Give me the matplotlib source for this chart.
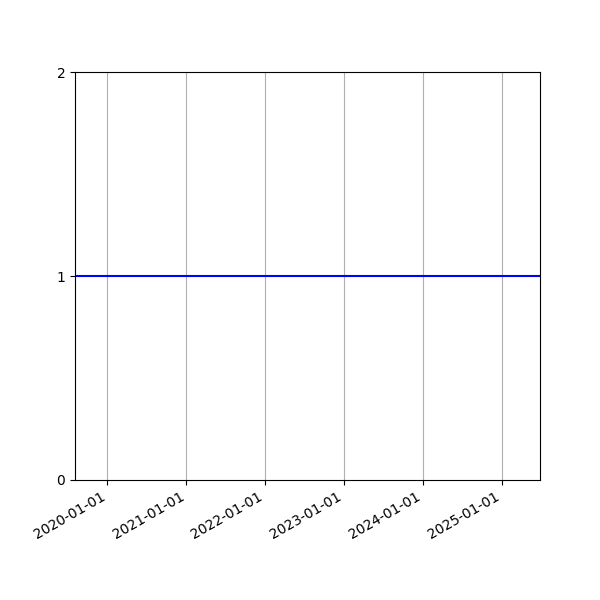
import numpy as np
import pandas as pd
import matplotlib
matplotlib.use("Agg")
import matplotlib.pyplot as plt
import matplotlib.dates as mdates

dates = pd.to_datetime(["2019-08-04", "2025-06-26"])
values = [1, 1]
tick_dates = pd.to_datetime(["2020-01-01", "2021-01-01", "2022-01-01",
                             "2023-01-01", "2024-01-01", "2025-01-01"])
y_ticks = [0, 1, 2]

fig, ax = plt.subplots(figsize=(6, 6), dpi=100)
ax.plot(dates, values, color="blue")
ax.set_xlim(dates[0], dates[-1])
ax.set_ylim(0, 2)
ax.set_yticks(y_ticks)
ax.set_xticks(tick_dates)
ax.xaxis.set_major_formatter(mdates.DateFormatter("%Y-%m-%d"))
ax.grid(True, axis="x")
fig.autofmt_xdate()
fig.savefig("out.png")
